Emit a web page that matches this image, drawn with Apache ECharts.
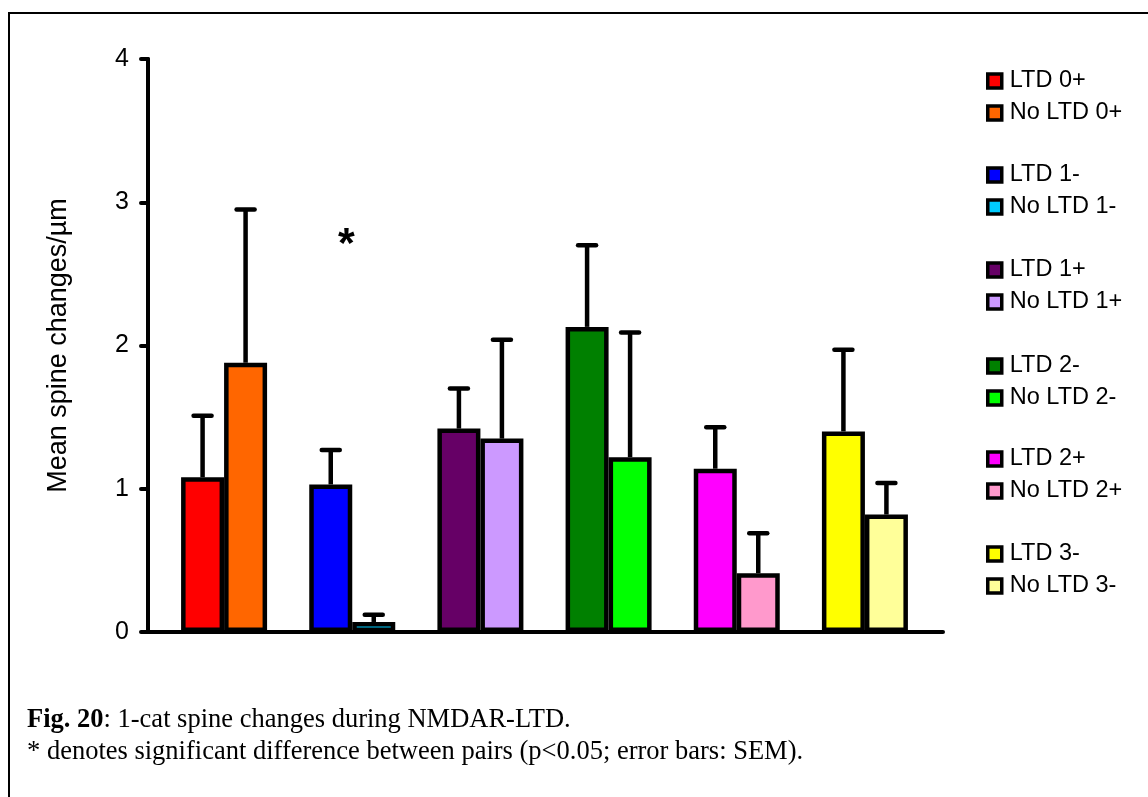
<!DOCTYPE html>
<html>
<head>
<meta charset="utf-8">
<script src="https://cdn.jsdelivr.net/npm/echarts@6/dist/echarts.min.js"></script>
<style>
  html, body { margin: 0; padding: 0; background: #fff; }
  #frame { position: absolute; left: 8px; top: 12px; width: 1160px; height: 800px;
           border-left: 2px solid #000; border-top: 2px solid #000; }
  #chart { position: absolute; left: 0; top: 0; width: 1148px; height: 797px; }
</style>
</head>
<body>
<div id="frame"></div>
<div id="chart"></div>
<script>
const categories = ['0+', '1-', '1+', '2-', '2+', '3-'];
const ltdNames = ['LTD 0+', 'LTD 1-', 'LTD 1+', 'LTD 2-', 'LTD 2+', 'LTD 3-'];
const noLtdNames = ['No LTD 0+', 'No LTD 1-', 'No LTD 1+', 'No LTD 2-', 'No LTD 2+', 'No LTD 3-'];
const ltdMean = [1.08, 1.03, 1.42, 2.13, 1.14, 1.40];
const ltdSem = [0.43, 0.24, 0.28, 0.57, 0.29, 0.57];
const noLtdMean = [1.88, 0.07, 1.35, 1.22, 0.41, 0.82];
const noLtdSem = [1.07, 0.05, 0.69, 0.87, 0.28, 0.22];
const ltdColors = ['#FF0000', '#0000FF', '#660066', '#008000', '#FF00FF', '#FFFF00'];
const noLtdColors = ['#FF6600', '#00CCFF', '#CC99FF', '#00FF00', '#FF99CC', '#FFFF99'];
const yTicks = [0, 1, 2, 3, 4];
const yTitle = 'Mean spine changes/µm';
const captionBold = 'Fig. 20';
const captionLine1 = ': 1-cat spine changes during NMDAR-LTD.';
const captionLine2 = '* denotes significant difference between pairs (p<0.05; error bars: SEM).';
const sigMark = '*';

const SANS = "'Liberation Sans', Arial, sans-serif";
const SERIF = "'Liberation Serif', 'Times New Roman', serif";
const BAR_W = 43;

const chart = echarts.init(document.getElementById('chart'));

const series = [];
categories.forEach((c, i) => {
  const mk = (name, color, val, stack) => ({
    name: name, type: 'bar', stack: stack, xAxisIndex: 1, yAxisIndex: 1,
    barWidth: BAR_W, barGap: '0%',
    itemStyle: { color: color, borderColor: '#000', borderWidth: 4.5 },
    data: categories.map((_, j) => j === i ? val : '-'),
    z: 2
  });
  series.push(mk(ltdNames[i], ltdColors[i], ltdMean[i], 'ltd'));
  series.push(mk(noLtdNames[i], noLtdColors[i], noLtdMean[i], 'noltd'));
});

const errData = [];
categories.forEach((c, i) => {
  errData.push([i, ltdMean[i], ltdSem[i], -1]);
  errData.push([i, noLtdMean[i], noLtdSem[i], 1]);
});

series.push({
  type: 'custom', xAxisIndex: 1, yAxisIndex: 1, z: 3,
  data: errData,
  renderItem: function (params, api) {
    const x = api.value(0), m = api.value(1), e = api.value(2), side = api.value(3);
    const p0 = api.coord([x, m]);
    const p1 = api.coord([x, m + e]);
    const cx = p0[0] + side * BAR_W / 2;
    const style = { stroke: '#000', lineWidth: 4.5, lineCap: 'round' };
    return {
      type: 'group',
      children: [
        { type: 'line', shape: { x1: cx, y1: p0[1], x2: cx, y2: p1[1] }, style: { stroke: '#000', lineWidth: 4.5 } },
        { type: 'line', shape: { x1: cx - 9, y1: p1[1], x2: cx + 9, y2: p1[1] }, style: style }
      ]
    };
  }
});

const legendTops = [69, 163, 258, 354, 447, 542];
const legends = categories.map((c, i) => ({
  orient: 'vertical', left: 986, top: legendTops[i], padding: 0,
  data: [ltdNames[i], noLtdNames[i]],
  itemWidth: 14, itemHeight: 14, itemGap: 8,
  icon: 'rect', selectedMode: false,
  itemStyle: { borderColor: '#000', borderWidth: 3.5 },
  textStyle: { fontFamily: SANS, fontSize: 23.5, color: '#000', lineHeight: 24, padding: [0, 0, 0, 3] }
}));

chart.setOption({
  animation: false,
  backgroundColor: 'transparent',
  title: {
    left: 27, top: 704, padding: 0,
    text: '{b|' + captionBold + '}' + captionLine1 + '\n' + captionLine2,
    textStyle: {
      fontFamily: SERIF, fontSize: 26.5, fontWeight: 'normal', color: '#000', lineHeight: 32,
      rich: { b: { fontFamily: SERIF, fontSize: 26.5, fontWeight: 'bold', color: '#000', lineHeight: 32 } }
    }
  },
  legend: legends,
  grid: [
    { left: 148, right: 205, top: 59, bottom: 165 },
    { left: 160, right: 219, top: 59, bottom: 165 }
  ],
  xAxis: [
    { type: 'category', gridIndex: 0, data: categories,
      axisLine: { lineStyle: { color: '#000', width: 4, cap: 'round' } },
      axisTick: { show: false }, axisLabel: { show: false }, splitLine: { show: false } },
    { type: 'category', gridIndex: 1, data: categories, show: false }
  ],
  yAxis: [
    { type: 'value', gridIndex: 0, min: yTicks[0], max: yTicks[yTicks.length - 1], interval: 1,
      name: yTitle, nameLocation: 'middle', nameGap: 76, nameRotate: 90,
      nameTextStyle: { fontFamily: SANS, fontSize: 27, color: '#000' },
      axisLine: { show: true, lineStyle: { color: '#000', width: 4, cap: 'round' } },
      axisTick: { show: true, length: 7, lineStyle: { color: '#000', width: 4, cap: 'round' } },
      axisLabel: { margin: 19, fontFamily: SANS, fontSize: 25, color: '#000' },
      splitLine: { show: false } },
    { type: 'value', gridIndex: 1, min: yTicks[0], max: yTicks[yTicks.length - 1], interval: 1, show: false }
  ],
  graphic: [
    { type: 'text', left: 338, top: 224,
      style: { text: sigMark, fontFamily: SANS, fontSize: 43, fontWeight: 'bold', fill: '#000' } }
  ],
  series: series
});
</script>
</body>
</html>
